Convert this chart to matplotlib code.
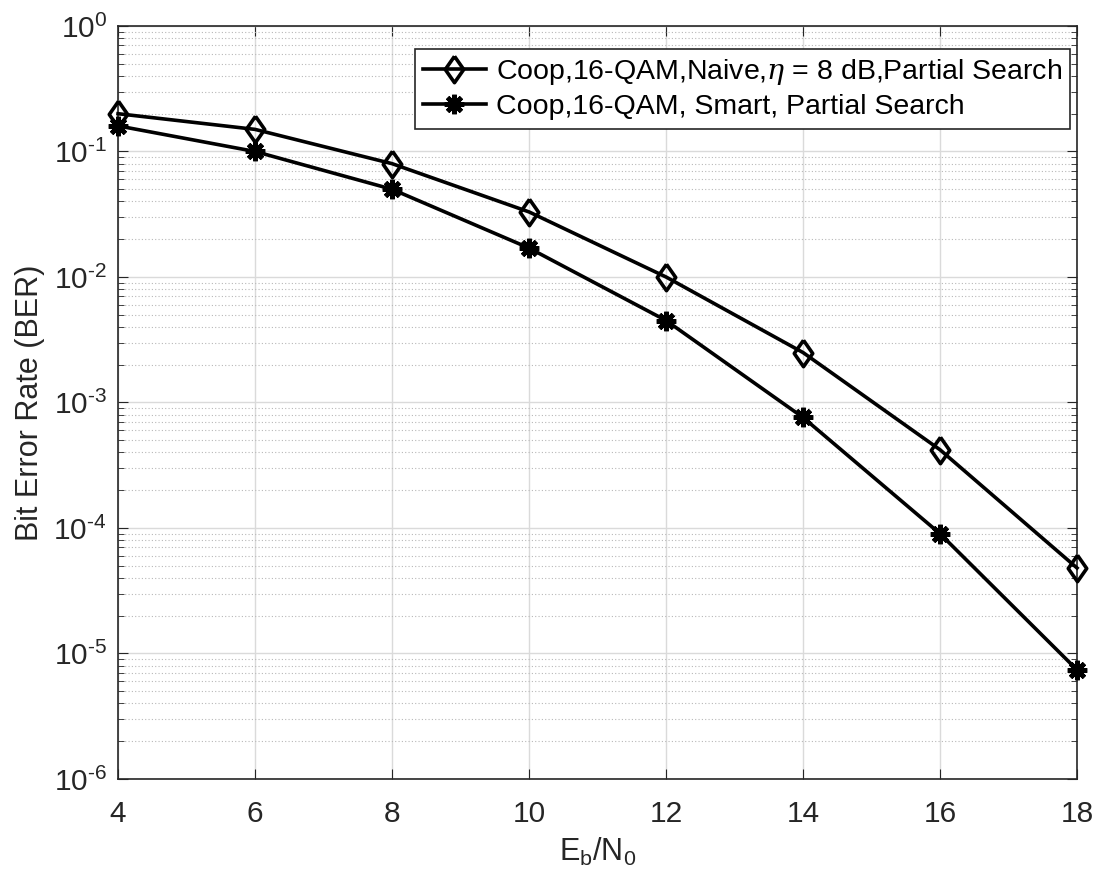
import matplotlib
matplotlib.use("Agg")
import matplotlib.pyplot as plt
from matplotlib.ticker import LogLocator, NullFormatter, FuncFormatter
import numpy as np

# dados
ebn0 = [4, 6, 8, 10, 12, 14, 16, 18]
ber_naive = [0.2, 0.15, 0.08, 0.033, 0.01, 0.0025, 4.2e-4, 4.8e-5]
ber_smart = [0.16, 0.1, 0.05, 0.017, 0.0045, 7.6e-4, 9e-5, 7.4e-6]
label_naive = r'Coop,16-QAM,Naive,$\eta$ = 8 dB,Partial Search'
label_smart = 'Coop,16-QAM, Smart, Partial Search'

plt.rcParams['font.family'] = ['Liberation Sans', 'DejaVu Sans']
plt.rcParams['mathtext.fontset'] = 'custom'
plt.rcParams['mathtext.rm'] = 'Liberation Sans'
plt.rcParams['mathtext.it'] = 'DejaVu Serif:italic'

txt = '#262626'
fig = plt.figure(figsize=(10.97, 8.81), dpi=100)
ax = fig.add_axes([0.1076, 0.1158, 0.8742, 0.8547])

# losango mais alto que largo, como no matlab
diamante = [(0, 1), (0.7, 0), (0, -1), (-0.7, 0), (0, 1)]

ax.semilogy(ebn0, ber_naive, '-', color='black', lw=2.6, marker=diamante,
            ms=19, mfc='none', mec='black', mew=2.6, label=label_naive,
            clip_on=False, zorder=5)
ax.semilogy(ebn0, ber_smart, '-', color='black', lw=2.6, marker=(8, 2, 0),
            ms=14, mec='black', mew=3.4, label=label_smart,
            clip_on=False, zorder=5)

ax.set_xlim(4, 18)
ax.set_ylim(1e-6, 1)
ax.set_xticks(range(4, 19, 2))
ax.yaxis.set_major_locator(LogLocator(base=10, numticks=10))
ax.yaxis.set_minor_locator(LogLocator(base=10, subs=range(2, 10), numticks=20))
ax.yaxis.set_minor_formatter(NullFormatter())


def fmt_pot(v, pos):
    e = int(round(np.log10(v)))
    return r'$\mathregular{10^{%s}}$' % (str(e).replace('-', r'\text{-}'))


ax.yaxis.set_major_formatter(FuncFormatter(fmt_pot))

ax.grid(True, which='major', color='#dadada', lw=1, ls='-')
ax.grid(True, which='minor', axis='y', color='#b8b8b8', lw=0.8, ls=(0, (1, 2)))
ax.set_axisbelow(True)

ax.tick_params(which='both', direction='in', top=True, right=True,
               labelsize=21.5, colors=txt)
ax.tick_params(axis='x', which='major', length=7, pad=15)
ax.tick_params(axis='y', which='major', length=7, pad=8)
ax.tick_params(which='minor', length=4)
for s in ax.spines.values():
    s.set_color(txt)
    s.set_linewidth(1.2)

ax.set_xlabel(r'E$_\mathregular{b}$/N$_\mathregular{0}$', fontsize=22, color=txt, labelpad=6)
ax.set_ylabel('Bit Error Rate (BER)', fontsize=22, color=txt, labelpad=6)

leg = ax.legend(loc='upper right', bbox_to_anchor=(0.993, 0.97), fontsize=20.5,
                frameon=True, fancybox=False, edgecolor=txt, framealpha=1,
                handlelength=2.2, borderpad=0.3, labelspacing=0.25,
                handletextpad=0.35, borderaxespad=0)
leg.get_frame().set_linewidth(1.2)

fig.savefig('out.png', dpi=100)
